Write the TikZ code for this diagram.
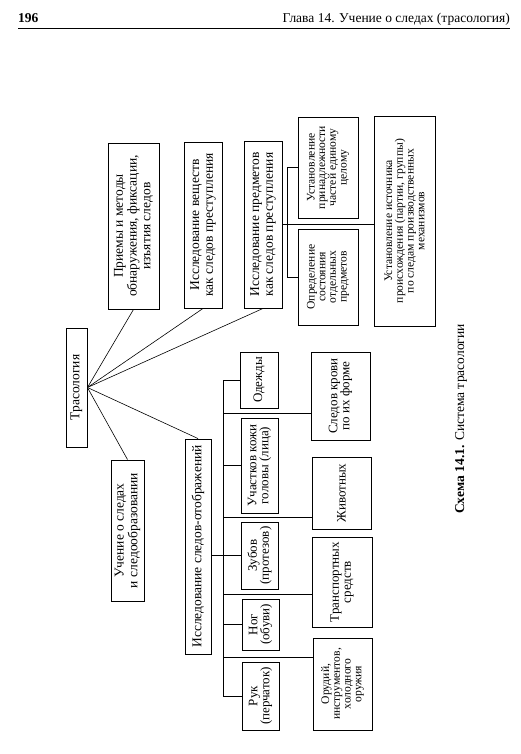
\documentclass[tikz,border=0pt]{standalone}
\usepackage{fontspec}
\setmainfont{Liberation Serif}
\tikzset{
  box/.style={draw, rotate=90, align=center, inner sep=1pt, line width=0.9pt},
  big/.style={font=\fontsize{13.5}{13.8}\selectfont},
  mid/.style={font=\fontsize{13}{12}\selectfont},
  small/.style={font=\fontsize{11.6}{10.7}\selectfont},
  conn/.style={line width=0.6pt},
}
\begin{document}
\begin{tikzpicture}[x=1pt, y=-1pt]
\useasboundingbox (0,0) rectangle (520,754);
% header
\node[anchor=base west, inner sep=0pt, font=\bfseries\fontsize{13.5}{15}\selectfont] (pg) at (18,23) {196};
\node[anchor=base east, inner sep=0pt, font=\fontsize{13.5}{15}\selectfont] (hd) at (510,23) {Глава 14. Учение о следах (трасология)};
\draw[line width=1pt] (18,29) -- (510,29);
% top part
\node[box, big, minimum width=119pt, minimum height=21pt] (tras) at (76.5,387.5) {Трасология};
\node[box, big, minimum width=166pt, minimum height=51pt] (pri) at (133.5,226) {Приемы и методы\\обнаружения, фиксации,\\изъятия следов};
\node[box, big, minimum width=166pt, minimum height=38pt] (vesh) at (203,225) {Исследование веществ\\как следов преступления};
\node[box, big, minimum width=167pt, minimum height=38pt] (pred) at (263,224.5) {Исследование предметов\\как следов преступления};
\node[box, small, minimum width=101pt, minimum height=60pt] (ust) at (328,167.5) {Установление\\принадлежности\\частей единому\\целому};
\node[box, small, minimum width=96pt, minimum height=60pt] (opr) at (328,277) {Определение\\состояния\\отдельных\\предметов};
\node[box, small, minimum width=210pt, minimum height=61pt] (ist) at (404.5,221) {Установление источника\\происхождения (партии, группы)\\по следам производственных\\механизмов};
\node[box, big, minimum width=141pt, minimum height=33pt] (uch) at (127.5,530.5) {Учение о следах\\и следообразовании};
\node[box, big, minimum width=215pt, minimum height=26pt] (sl) at (198,546.5) {Исследование следов-отображений};
% lower part
\node[box, mid, minimum width=56pt, minimum height=38pt] (od) at (259,380) {Одежды};
\node[box, mid, minimum width=95pt, minimum height=37pt] (kozh) at (259.5,465.5) {Участков кожи\\головы (лица)};
\node[box, mid, minimum width=67pt, minimum height=37pt] (zub) at (259.5,555.5) {Зубов\\(протезов)};
\node[box, mid, minimum width=51pt, minimum height=37pt] (nog) at (260.5,624.5) {Ног\\(обуви)};
\node[box, mid, minimum width=68pt, minimum height=37pt] (ruk) at (260.5,696) {Рук\\(перчаток)};
\node[box, mid, minimum width=88pt, minimum height=59pt] (krov) at (340.5,396) {Следов крови\\по их форме};
\node[box, mid, minimum width=72pt, minimum height=59pt] (zhiv) at (341.5,493) {Животных};
\node[box, mid, minimum width=90pt, minimum height=60pt] (tr) at (342,582) {Транспортных\\средств};
\node[box, small, minimum width=92pt, minimum height=59pt] (orud) at (342.5,684) {Орудий,\\инструментов,\\холодного\\оружия};
% caption
\node[rotate=90, inner sep=0pt, font=\fontsize{13.5}{15}\selectfont] (cap) at (461,419) {\textbf{Схема 14.1.} Система трасологии};
% connectors top
\draw[conn] (tras.south) -- (pri.west);
\draw[conn] (tras.south) -- (vesh.west);
\draw[conn] (tras.south) -- (pred.west);
\draw[conn] (tras.south) -- (uch.east);
\draw[conn] (tras.south) -- (sl.east);
\draw[conn] (pred.south) -- (pred.south -| ist.north);
\draw[conn] (ust.north) -- ++(-10,0) |- (opr.north);
% connectors bottom
\coordinate (bus) at (223,0);
\draw[conn] (sl.south |- zub.north) -- (zub.north);
\draw[conn] (od.north) -- (od.north -| bus) -- (ruk.north -| bus) -- (ruk.north);
\draw[conn] (kozh.north -| bus) -- (kozh.north);
\draw[conn] (nog.north -| bus) -- (nog.north);
\coordinate (g1) at (223,413);
\coordinate (g2) at (223,517);
\coordinate (g3) at (223,594);
\coordinate (g4) at (223,657);
\draw[conn] (g1) -- (g1 -| krov.north);
\draw[conn] (g2) -- (g2 -| zhiv.north);
\draw[conn] (g3) -- (g3 -| tr.north);
\draw[conn] (g4) -- (g4 -| orud.north);
\end{tikzpicture}
\end{document}
